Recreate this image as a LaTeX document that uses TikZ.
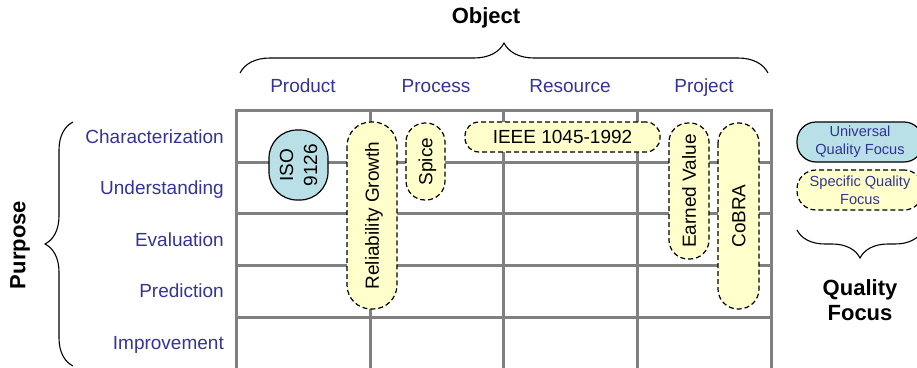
\documentclass[tikz,border=0pt]{standalone}
\usepackage{fontspec}
\setmainfont{Liberation Sans}
\usepackage{tikz}
\usetikzlibrary{positioning,decorations.pathreplacing}
\definecolor{labelblue}{RGB}{51,51,153}
\definecolor{gridgray}{RGB}{128,128,128}
\definecolor{universalfill}{RGB}{185,224,230}
\definecolor{specificfill}{RGB}{255,255,204}
\tikzset{
     axislabel/.style={font=\fontsize{19}{23}\selectfont, text=labelblue, inner sep=0pt, text height=13.6pt, text depth=0pt},
     heading/.style={font=\fontsize{22}{25}\selectfont\bfseries, align=center, inner sep=0pt},
     universal/.style={draw, line width=1.2pt, fill=universalfill, font=\fontsize{19}{24}\selectfont, align=center, inner sep=0pt},
     specific/.style={draw, line width=1.2pt, dash pattern=on 5pt off 3pt, fill=specificfill, font=\fontsize{19}{24}\selectfont, align=center, inner sep=0pt, text height=13.6pt, text depth=0pt},
     legendtext/.style={font=\fontsize{14.6}{18}\selectfont, text=labelblue},
     gridline/.style={draw=gridgray, line width=3pt},
     curly/.style={decorate, decoration={brace, amplitude=#1}, line width=1.1pt}
     }

\begin{document}
\begin{tikzpicture}[x=1pt, y=-1pt]
                    \useasboundingbox (0,0) rectangle (917,367);
                    \clip (0,0) rectangle (917,367);
                    % Grid
                    \foreach \x in {236,370,503,637,771}
                        \draw[gridline] (\x,108.5) -- (\x,372);
                    \foreach \y in {110,162,213,265,317}
                        \draw[gridline] (234.5,\y) -- (772.5,\y);
                    % Place nodes
                    \node[heading] (object) at (486,18) {Object};
                    \node[heading, rotate=90] (purpose) at (20,245) {Purpose};
                    \node[heading] (quality) at (860,300) {Quality\\Focus};
                    \foreach \x/\name/\txt in {303/product/Product, 436/process/Process, 570/resource/Resource, 704/project/Project}
                        \node[axislabel] (\name) at (\x,86) {\txt};
                    \foreach \y/\name/\txt in {137/char/Characterization, 188/under/Understanding, 240/eval/Evaluation, 291/pred/Prediction, 343/impr/Improvement}
                        \node[axislabel, anchor=east] (\name) at (224,\y) {\txt};
                    % Braces
                    \coordinate (objL) at (240,73);
                    \coordinate (objR) at (768,73);
                    \coordinate (purT) at (73,122);
                    \coordinate (purB) at (73,366);
                    \coordinate (qualL) at (797,230);
                    \coordinate (qualR) at (923,230);
                    \draw[curly=30pt] (objL) -- (objR);
                    \draw[curly=28pt] (purB) -- (purT);
                    \draw[curly=28pt] (qualR) -- (qualL);
                    % Approaches
                    \node[universal, rotate=90, minimum width=70pt, minimum height=59pt, rounded corners=28pt] (iso) at (298.5,165) {ISO\\9126};
                    \node[specific, rotate=90, minimum width=187pt, minimum height=50pt, rounded corners=24pt] (growth) at (372,215.5) {Reliability Growth};
                    \node[specific, rotate=90, minimum width=77pt, minimum height=39pt, rounded corners=19pt] (spice) at (425.5,161.5) {Spice};
                    \node[specific, minimum width=195pt, minimum height=30pt, rounded corners=14pt] (ieee) at (562.5,137) {IEEE 1045-1992};
                    \node[specific, rotate=90, minimum width=136pt, minimum height=40pt, rounded corners=19pt] (earned) at (689,191) {Earned Value};
                    \node[specific, rotate=90, minimum width=186pt, minimum height=41pt, rounded corners=20pt] (cobra) at (738.5,216) {CoBRA};
                    % Legend
                    \node[universal, legendtext, minimum width=126pt, minimum height=40pt, rounded corners=19pt] (unilegend) at (860,142) {Universal\\Quality Focus};
                    \node[specific, legendtext, text height=, text depth=, minimum width=126pt, minimum height=40pt, rounded corners=19pt] (speclegend) at (860,190) {Specific Quality\\Focus};
                \end{tikzpicture}
\end{document}
